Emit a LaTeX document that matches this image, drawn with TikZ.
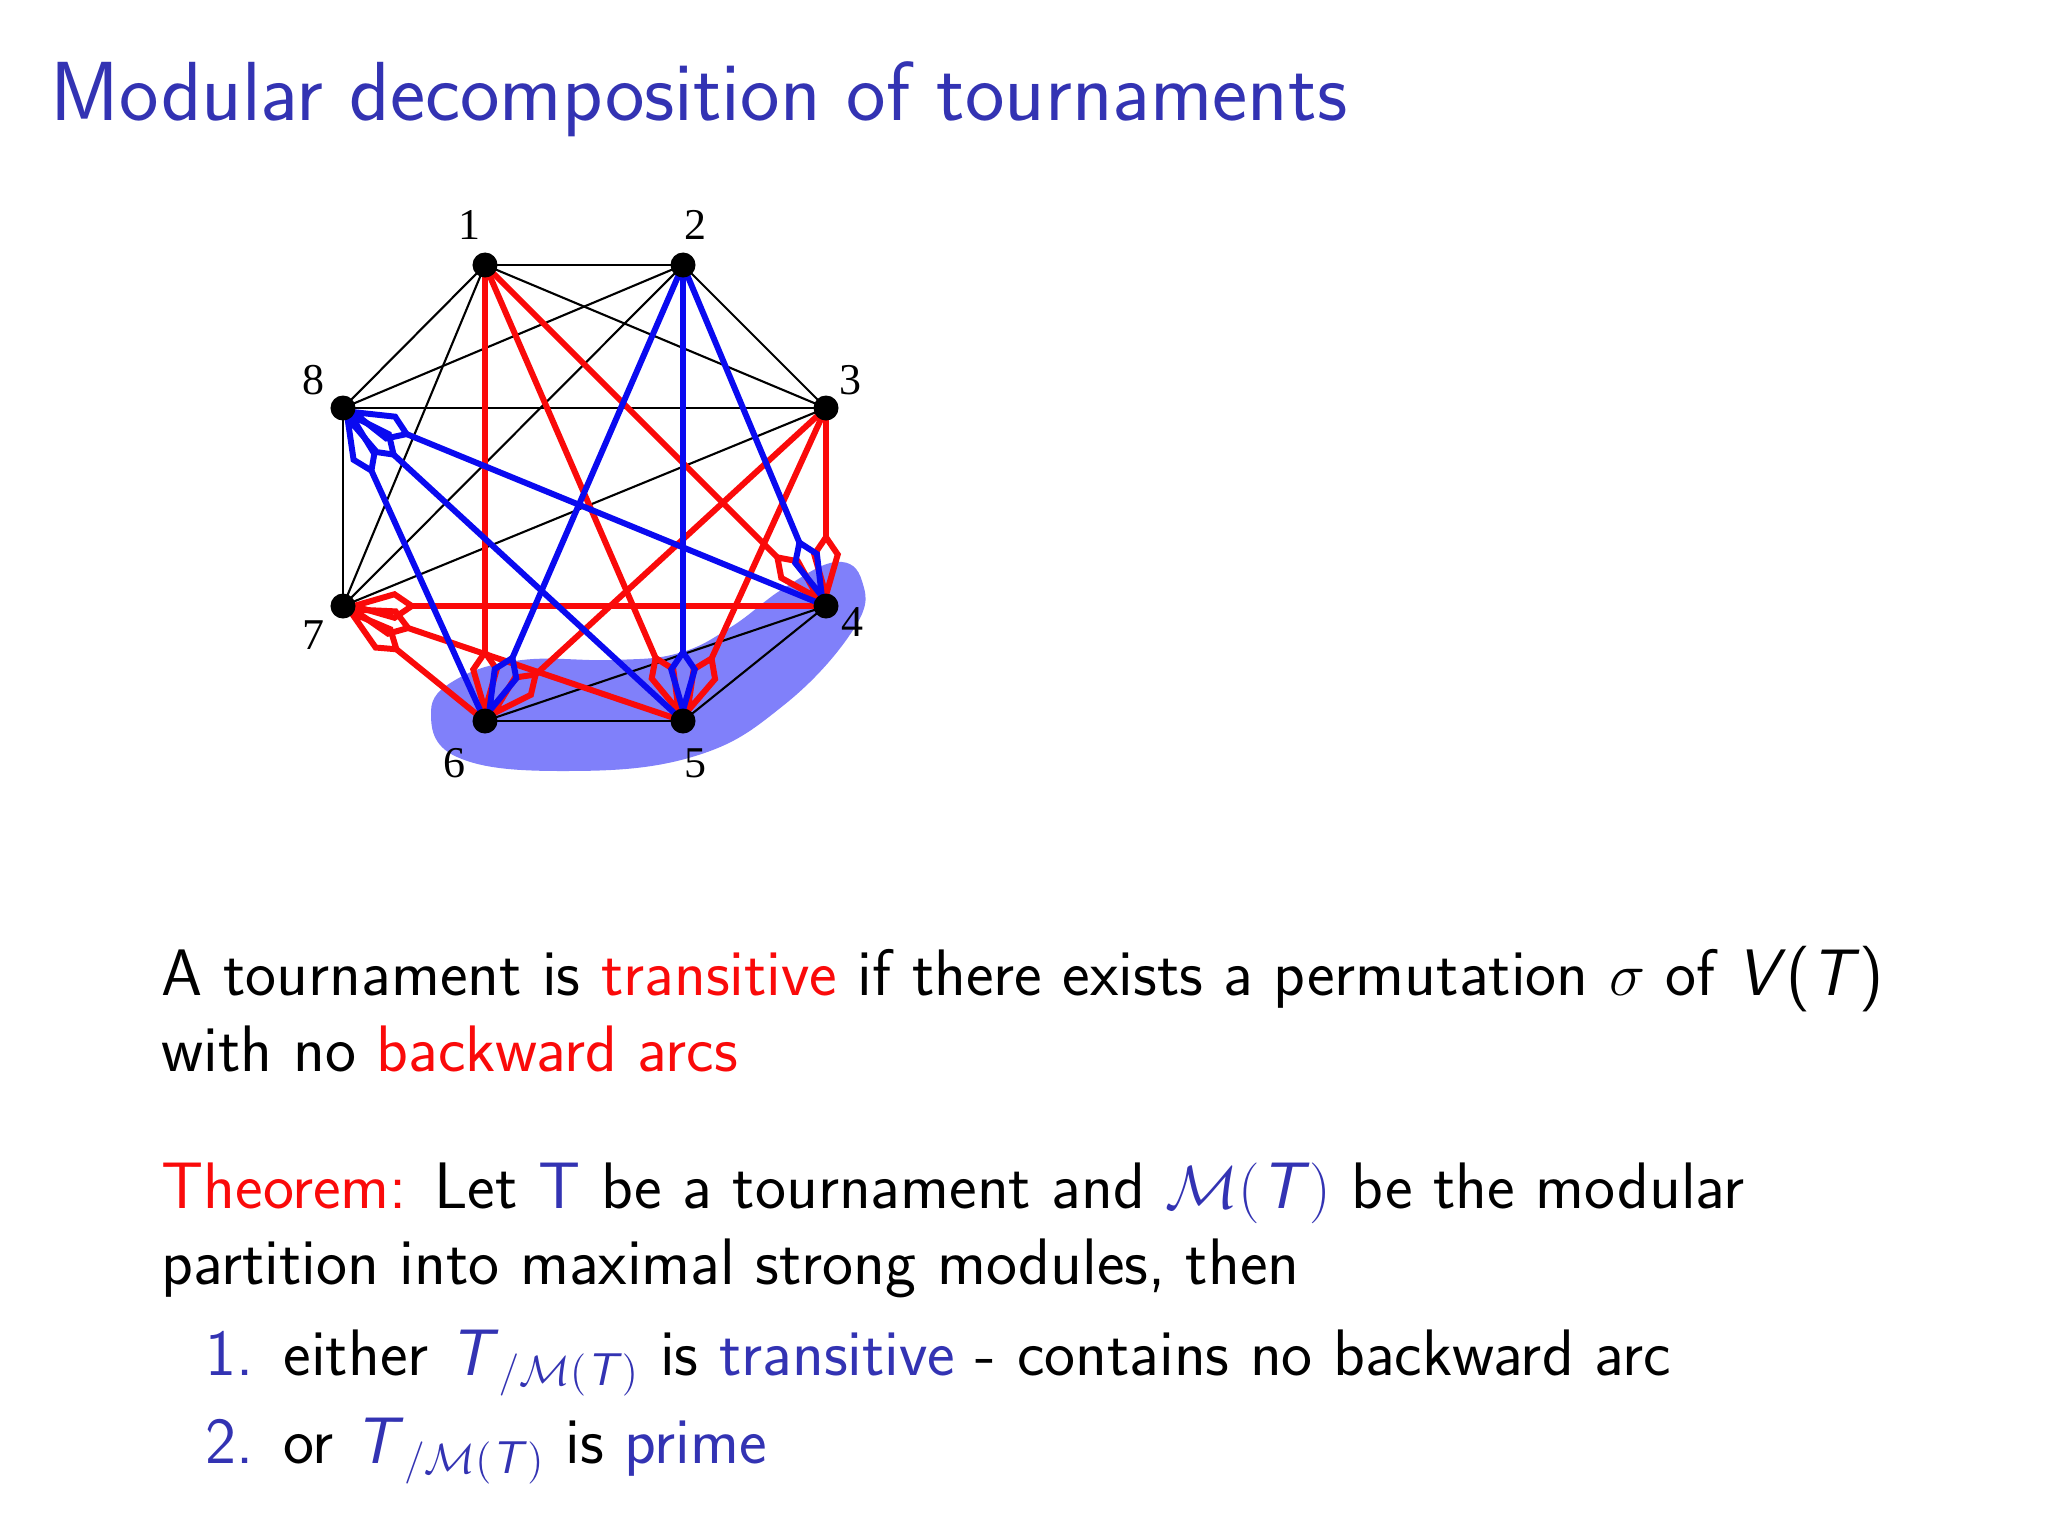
\documentclass[tikz,border=0pt]{standalone}
\usepackage{fontspec}
\usepackage{amsmath}
\newfontfamily\tms{Liberation Serif}
\usetikzlibrary{arrows.meta}
\definecolor{bm}{RGB}{51,51,179}
\definecolor{ered}{RGB}{250,10,10}
\definecolor{eblue}{RGB}{10,10,240}
\definecolor{blob}{RGB}{128,128,250}
\begin{document}
\begin{tikzpicture}[x=0.01cm,y=-0.01cm,
  blk/.style={line width=0.6pt,black},
  rarc/.style={line width=1.7pt,ered,-{Kite[open,length=0.74cm,width=0.3cm,inset=0.22cm]}},
  barc/.style={line width=1.7pt,eblue,-{Kite[open,length=0.74cm,width=0.3cm,inset=0.22cm]}},
  dot/.style={circle,fill=black,inner sep=0pt,minimum size=0.25cm},
  lab/.style={font=\tms\fontsize{12.5}{12}\selectfont},
  txt/.style={anchor=base west,inner sep=0pt,font=\sffamily\fontsize{18.7}{20}\selectfont}]
\fill[white] (0,0) rectangle (2048,1536);
\useasboundingbox (0,0) rectangle (2048,1536);
\node[anchor=base west,inner sep=0pt,text=bm,font=\sffamily\fontsize{23.85}{30}\selectfont] (title) at (50,120) {Modular decomposition of tournaments};
% blob
\fill[blob] plot[smooth cycle,tension=0.7] coordinates {(431,712) (457,757) (562,771) (692,757) (784,705) (855,627) (862,581) (836,562) (784,588) (731,627) (679,653) (614,660) (522,660) (457,679)};
% vertices
\coordinate (v1) at (485,265); \coordinate (v2) at (683,265);
\coordinate (v3) at (826,408); \coordinate (v4) at (826,606);
\coordinate (v5) at (683,721); \coordinate (v6) at (485,721);
\coordinate (v7) at (343,606); \coordinate (v8) at (343,408);
% black
\foreach \a/\b in {1/2,1/8,1/7,1/3,2/8,2/7,2/3,8/3,8/7,7/3,6/5,6/4,5/4}
  \draw[blk] (v\a) -- (v\b);
% red
\foreach \a/\b in {1/6,1/5,1/4,3/6,3/5,3/4,4/7,5/7,6/7}
  \draw[rarc] (v\a) -- (v\b);
% blue
\foreach \a/\b in {2/6,2/5,2/4,6/8,5/8,4/8}
  \draw[barc] (v\a) -- (v\b);
\foreach \i in {1,...,8} \node[dot] (n\i) at (v\i) {};
\node[lab] (l1) at (469,225) {1}; \node[lab] (l2) at (695,225) {2};
\node[lab] (l3) at (850,380) {3}; \node[lab] (l8) at (313,380) {8};
\node[lab] (l7) at (313,635) {7}; \node[lab] (l4) at (852,622) {4};
\node[lab] (l6) at (454,763) {6}; \node[lab] (l5) at (695,763) {5};
% text
\node[txt] (t1) at (161,995) {A tournament is \textcolor{ered}{transitive} if there exists a permutation $\sigma$ of \textit{V}(\textit{T})};
\node[txt] (t2) at (161,1071) {with no \textcolor{ered}{backward arcs}};
\node[txt] (t3) at (161,1208) {\textcolor{ered}{Theorem:} Let \textcolor{bm}{T} be a tournament and \textcolor{bm}{$\mathcal{M}(\textsf{\textit{T}})$} be the modular};
\node[txt] (t4) at (161,1284) {partition into maximal strong modules, then};
\node[txt,text=bm] (i1) at (205,1375) {1.};
\node[txt] (t5) at (283,1375) {either \textcolor{bm}{\textit{T}$_{/\mathcal{M}(\textsf{\textit{T}})}$} is \textcolor{bm}{transitive} - contains no backward arc};
\node[txt,text=bm] (i2) at (205,1463) {2.};
\node[txt] (t6) at (283,1463) {or \textcolor{bm}{\textit{T}$_{/\mathcal{M}(\textsf{\textit{T}})}$} is \textcolor{bm}{prime}};
\end{tikzpicture}
\end{document}
